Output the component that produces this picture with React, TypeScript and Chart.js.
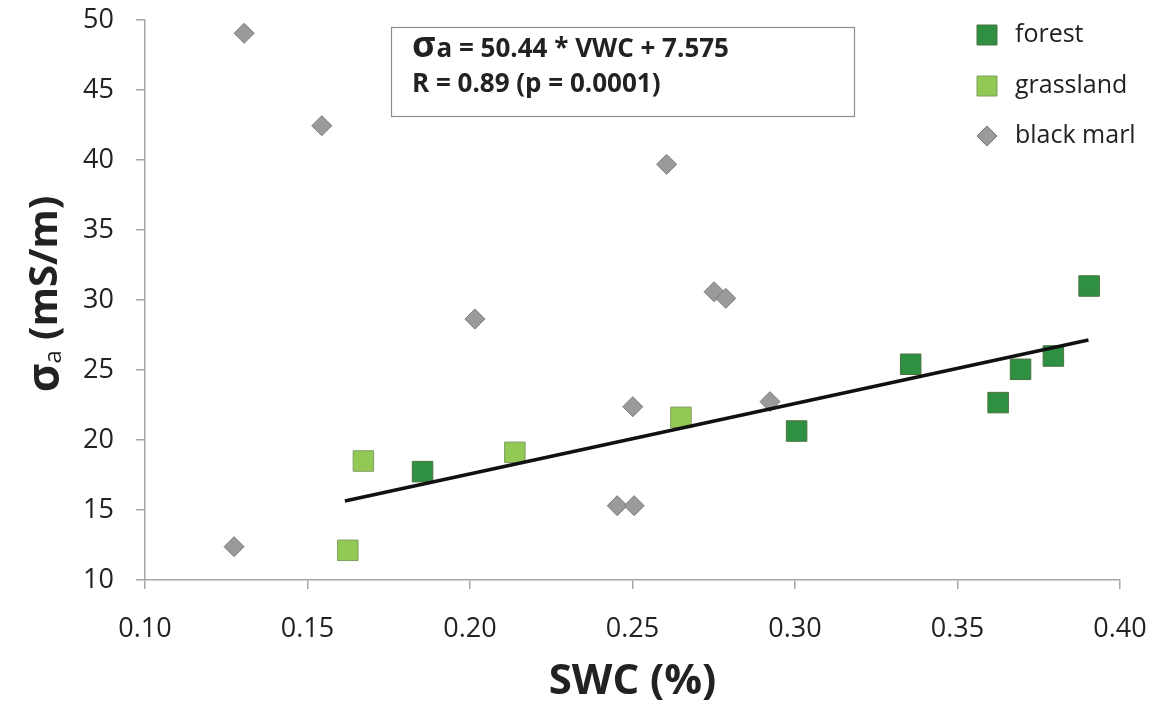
import React, { useEffect, useRef } from "react";
import { Chart, registerables } from "chart.js";

Chart.register(...registerables);

// ---- data ----
const forestX = [0.1854, 0.3005, 0.3356, 0.3625, 0.3694, 0.3795, 0.3905];
const forestY = [17.74, 20.64, 25.41, 22.67, 25.05, 26.0, 31.0];

const grassX = [0.1624, 0.1672, 0.2138, 0.2649];
const grassY = [12.12, 18.5, 19.12, 21.62];

const marlX = [0.1274, 0.1305, 0.1544, 0.2015, 0.2453, 0.2501, 0.2505, 0.2605, 0.2751, 0.2787, 0.2923];
const marlY = [12.38, 49.05, 42.45, 28.64, 15.31, 22.38, 15.31, 39.69, 30.59, 30.12, 22.74];

const trendX = [0.1615, 0.3903];
const trendY = [15.64, 27.14];

const xTicks = [0.1, 0.15, 0.2, 0.25, 0.3, 0.35, 0.4];
const yTicks = [10, 15, 20, 25, 30, 35, 40, 45, 50];

const seriesLabels = ["forest", "grassland", "black marl"];
const equationRest = "a = 50.44 * VWC + 7.575";
const equationLine2 = "R = 0.89 (p = 0.0001)";
const xTitle = "SWC (%)";
const yTitleRest = " (mS/m)";

const FONT = "'Open Sans', 'DejaVu Sans', sans-serif";
const COLORS = {
  forest: "#2E9040",
  forestBorder: "#4B7340",
  grass: "#92C955",
  grassBorder: "#7F9D62",
  marl: "#9A9A9A",
  marlBorder: "#7A7A7A",
  axis: "#A6A6A6",
  text: "#222222",
};

const zip = (xs: number[], ys: number[]) => xs.map((x, i) => ({ x, y: ys[i] }));

const overlayPlugin = {
  id: "overlay",
  afterDraw(chart: any) {
    const ctx = chart.ctx as CanvasRenderingContext2D;
    const area = chart.chartArea;
    ctx.save();

    // equation box
    ctx.strokeStyle = "#8C8C8C";
    ctx.lineWidth = 1.2;
    ctx.strokeRect(391.5, 27.5, 463, 89);
    ctx.fillStyle = COLORS.text;
    ctx.textBaseline = "alphabetic";
    ctx.textAlign = "left";
    ctx.font = `bold 36px ${FONT}`;
    ctx.fillText("σ", 412, 57);
    const sw = ctx.measureText("σ").width;
    ctx.font = `bold 26px ${FONT}`;
    ctx.fillText(equationRest, 412 + sw + 1, 57);
    ctx.fillText(equationLine2, 412, 92);

    // legend
    const legendYs = [35, 86, 136];
    const sets = chart.data.datasets.filter((d: any) => seriesLabels.includes(d.label));
    sets.forEach((d: any, i: number) => {
      const cx = 987;
      const cy = legendYs[i];
      ctx.fillStyle = d.backgroundColor;
      ctx.strokeStyle = d.borderColor;
      ctx.lineWidth = 1;
      ctx.beginPath();
      if (d.pointStyle === "rectRot") {
        const r = 10;
        ctx.moveTo(cx, cy - r);
        ctx.lineTo(cx + r, cy);
        ctx.lineTo(cx, cy + r);
        ctx.lineTo(cx - r, cy);
        ctx.closePath();
      } else {
        ctx.rect(cx - 10, cy - 10, 20, 20);
      }
      ctx.fill();
      ctx.stroke();
      ctx.fillStyle = COLORS.text;
      ctx.font = `25px ${FONT}`;
      ctx.textBaseline = "middle";
      ctx.fillText(d.label, 1015, cy);
    });

    // x title
    ctx.fillStyle = COLORS.text;
    ctx.font = `bold 42px ${FONT}`;
    ctx.textAlign = "center";
    ctx.textBaseline = "middle";
    ctx.fillText(xTitle, (area.left + area.right) / 2, 682);

    // y title (rotated, with subscript)
    ctx.save();
    ctx.translate(46, (area.top + area.bottom) / 2 - 6);
    ctx.rotate(-Math.PI / 2);
    ctx.textAlign = "left";
    ctx.textBaseline = "middle";
    const fSig = `bold 44px ${FONT}`;
    const fSub = `24px ${FONT}`;
    const fRest = `bold 40px ${FONT}`;
    ctx.font = fSig;
    const w1 = ctx.measureText("σ").width;
    ctx.font = fSub;
    const w2 = ctx.measureText("a").width;
    ctx.font = fRest;
    const w3 = ctx.measureText(yTitleRest).width;
    let x0 = -(w1 + w2 + w3) / 2;
    ctx.font = fSig;
    ctx.fillText("σ", x0, 0);
    x0 += w1;
    ctx.font = fSub;
    ctx.fillText("a", x0, 8);
    x0 += w2;
    ctx.font = fRest;
    ctx.fillText(yTitleRest, x0, 0);
    ctx.restore();

    ctx.restore();
  },
};

export default function App() {
  const ref = useRef<HTMLCanvasElement | null>(null);

  useEffect(() => {
    if (!ref.current) return;
    const chart = new Chart(ref.current, {
      type: "scatter",
      data: {
        datasets: [
          {
            type: "line",
            label: "trend",
            data: zip(trendX, trendY),
            borderColor: "#111111",
            borderWidth: 3.5,
            pointRadius: 0,
            fill: false,
            order: -1,
          } as any,
          {
            label: seriesLabels[0],
            data: zip(forestX, forestY),
            pointStyle: "rect",
            pointRadius: 14.5,
            backgroundColor: COLORS.forest,
            borderColor: COLORS.forestBorder,
            borderWidth: 1,
          },
          {
            label: seriesLabels[1],
            data: zip(grassX, grassY),
            pointStyle: "rect",
            pointRadius: 14.5,
            backgroundColor: COLORS.grass,
            borderColor: COLORS.grassBorder,
            borderWidth: 1,
          },
          {
            label: seriesLabels[2],
            data: zip(marlX, marlY),
            pointStyle: "rectRot",
            pointRadius: 10,
            backgroundColor: COLORS.marl,
            borderColor: COLORS.marlBorder,
            borderWidth: 1,
          },
        ],
      },
      options: {
        responsive: true,
        maintainAspectRatio: false,
        animation: false,
        events: [],
        layout: { padding: { top: 20, right: 34, left: 0, bottom: 0 } },
        plugins: {
          legend: { display: false },
          tooltip: { enabled: false },
          title: { display: false },
        },
        scales: {
          x: {
            type: "linear",
            min: 0.1,
            max: 0.4,
            afterBuildTicks: (s: any) => {
              s.ticks = xTicks.map((v) => ({ value: v }));
            },
            afterFit: (s: any) => {
              s.height = 122;
              s.paddingLeft = 0;
              s.paddingRight = 0;
            },
            ticks: {
              callback: (v: any) => Number(v).toFixed(2),
              font: { family: FONT, size: 27 },
              color: COLORS.text,
              padding: 24,
              maxRotation: 0,
            },
            grid: {
              drawOnChartArea: false,
              drawTicks: true,
              tickLength: 9,
              color: COLORS.axis,
              lineWidth: 1.5,
            },
            border: { display: true, color: COLORS.axis, width: 1.5 },
          },
          y: {
            type: "linear",
            min: 10,
            max: 50,
            afterBuildTicks: (s: any) => {
              s.ticks = yTicks.map((v) => ({ value: v }));
            },
            afterFit: (s: any) => {
              s.width = 145;
              s.paddingTop = 0;
              s.paddingBottom = 0;
            },
            ticks: {
              font: { family: FONT, size: 27 },
              color: COLORS.text,
              padding: 22,
            },
            grid: {
              drawOnChartArea: false,
              drawTicks: true,
              tickLength: 9,
              color: COLORS.axis,
              lineWidth: 1.5,
            },
            border: { display: true, color: COLORS.axis, width: 1.5 },
          },
        },
      },
      plugins: [overlayPlugin],
    });
    return () => chart.destroy();
  }, []);

  return (
    <div style={{ position: "fixed", left: 0, top: 0, width: 1154, height: 702, background: "#fff" }}>
      <canvas ref={ref} />
    </div>
  );
}
